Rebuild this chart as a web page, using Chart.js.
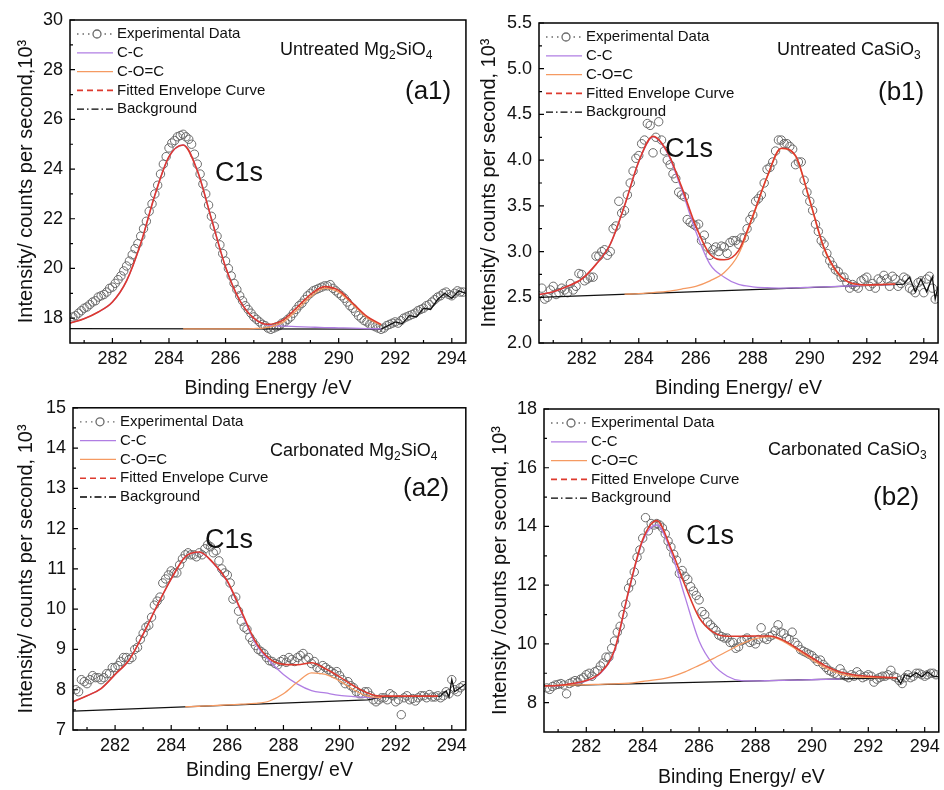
<!DOCTYPE html>
<html>
<head>
<meta charset="utf-8">
<script src="https://cdn.jsdelivr.net/npm/chart.js@4.4.1/dist/chart.umd.min.js"></script>
<style>
html,body{margin:0;padding:0;background:#fff;}
body{width:944px;height:790px;position:relative;overflow:hidden;}
.panel{position:absolute;}
.panel canvas{display:block;}
</style>
</head>
<body>
<div class="panel" style="left:0;top:0"><canvas id="cA1" width="472" height="400"></canvas></div>
<div class="panel" style="left:470px;top:0"><canvas id="cB1" width="474" height="400"></canvas></div>
<div class="panel" style="left:0;top:390px"><canvas id="cA2" width="472" height="400"></canvas></div>
<div class="panel" style="left:470px;top:390px"><canvas id="cB2" width="474" height="400"></canvas></div>
<script>
/* ============================================================
   DATA
   ============================================================ */
var xTicks=[282,284,286,288,290,292,294];
var yTicksA1=[18,20,22,24,26,28,30];
var yTicksB1=[2.0,2.5,3.0,3.5,4.0,4.5,5.0,5.5];
var yTicksA2=[7,8,9,10,11,12,13,14,15];
var yTicksB2=[8,10,12,14,16,18];

// grid for the fitted curves
var fitEnergy=[280.5,281,281.5,282,282.5,283,283.5,284,284.5,285,285.5,286,286.5,287,287.5,288,288.5,289,289.5,290,290.5,291,291.5,292,292.5,293,293.5,294,294.5];
// grid for the measured points
var expEnergy=[280.6,280.7,280.8,280.9,281.0,281.1,281.2,281.3,281.4,281.5,281.6,281.7,281.8,281.9,282.0,282.1,282.2,282.3,282.4,282.5,
  282.6,282.7,282.8,282.9,283.0,283.1,283.2,283.3,283.4,283.5,283.6,283.7,283.8,283.9,284.0,284.1,284.2,284.3,284.4,284.5,
  284.6,284.7,284.8,284.9,285.0,285.1,285.2,285.3,285.4,285.5,285.6,285.7,285.8,285.9,286.0,286.1,286.2,286.3,286.4,286.5,
  286.6,286.7,286.8,286.9,287.0,287.1,287.2,287.3,287.4,287.5,287.6,287.7,287.8,287.9,288.0,288.1,288.2,288.3,288.4,288.5,
  288.6,288.7,288.8,288.9,289.0,289.1,289.2,289.3,289.4,289.5,289.6,289.7,289.8,289.9,290.0,290.1,290.2,290.3,290.4,290.5,
  290.6,290.7,290.8,290.9,291.0,291.1,291.2,291.3,291.4,291.5,291.6,291.7,291.8,291.9,292.0,292.1,292.2,292.3,292.4,292.5,
  292.6,292.7,292.8,292.9,293.0,293.1,293.2,293.3,293.4,293.5,293.6,293.7,293.8,293.9,294.0,294.1,294.2,294.3,294.4];

/* (a1) untreated Mg2SiO4 */
var a1Exp=[18.05,18.1,18.2,18.3,18.4,18.45,18.55,18.65,18.7,18.85,18.9,18.95,19.05,19.2,19.25,19.4,19.55,19.7,19.9,20.1,
  20.3,20.55,20.8,21.0,21.3,21.6,21.9,22.3,22.6,23.0,23.35,23.8,24.2,24.5,24.85,25.05,25.15,25.3,25.35,25.4,
  25.3,25.2,25.0,24.6,24.2,23.8,23.4,23.0,22.55,22.1,21.7,21.3,20.95,20.6,20.3,20.0,19.7,19.4,19.15,18.9,
  18.7,18.5,18.35,18.2,18.05,17.95,17.85,17.75,17.7,17.6,17.55,17.6,17.65,17.7,17.8,17.85,17.95,18.05,18.2,18.35,
  18.5,18.6,18.75,18.9,19.0,19.1,19.15,19.2,19.25,19.3,19.3,19.35,19.2,19.1,19.0,18.9,18.8,18.65,18.5,18.4,
  18.25,18.1,18.0,17.9,17.85,17.75,17.7,17.65,17.6,17.55,17.6,17.7,17.75,17.8,17.85,17.8,17.9,18.0,18.05,18.1,
  18.15,18.2,18.3,18.35,18.4,18.5,18.55,18.65,18.75,18.85,18.9,19.0,19.05,18.95,18.9,19.0,19.1,19.05,19.05];
var a1Env=[17.8,17.98,18.25,18.65,19.5,21.0,22.95,24.5,24.97,23.94,22.0,20.06,18.72,18.0,17.75,17.9,18.4,18.95,19.27,19.12,18.6,18.07,17.75,null,null,null,null,null,null];
var a1CC=[17.8,17.98,18.25,18.65,19.5,21.0,22.95,24.5,24.97,23.94,22.0,20.06,18.72,18.0,17.72,17.68,17.66,17.64,17.62,17.61,17.6,17.58,17.57,null,null,null,null,null,null];
var a1COC=[null,null,null,null,null,null,null,null,17.57,17.57,17.57,17.57,17.57,17.58,17.63,17.82,18.3,18.85,19.2,19.05,18.55,18.02,17.72,null,null,null,null,null,null];
var a1BgEnergy=[280.5,291.5,291.75,292,292.25,292.5,292.75,293,293.25,293.5,293.75,294,294.25,294.5];
var a1Bg=[17.58,17.56,17.7,17.85,17.78,18.1,18.05,18.4,18.35,18.75,19.0,18.8,19.1,19.0];

/* (b1) untreated CaSiO3 */
var b1Exp=[2.60,2.48,2.50,2.58,2.62,2.53,2.55,2.60,2.58,2.55,2.65,2.58,2.62,2.76,2.75,2.68,2.70,2.72,2.72,2.95,
  2.95,3.0,3.02,2.96,3.0,3.25,3.28,3.55,3.42,3.45,3.62,3.75,3.88,4.02,4.05,4.18,4.22,4.40,4.38,4.08,
  4.25,4.42,4.22,4.10,4.00,3.95,3.85,3.80,3.65,3.62,3.60,3.35,3.32,3.30,3.28,3.30,3.12,3.18,3.05,2.96,
  3.02,3.05,3.0,3.06,3.05,2.98,3.10,3.12,3.12,3.08,3.15,3.15,3.25,3.35,3.40,3.55,3.58,3.62,3.75,3.90,
  3.92,3.98,4.1,4.22,4.22,4.18,4.18,4.15,4.12,3.95,3.98,3.98,3.78,3.65,3.55,3.45,3.30,3.22,3.12,3.08,
  2.98,2.90,2.85,2.80,2.78,2.72,2.72,2.66,2.60,2.64,2.62,2.60,2.68,2.70,2.72,2.62,2.65,2.60,2.70,2.68,
  2.74,2.70,2.62,2.73,2.70,2.62,2.65,2.72,2.70,2.60,2.58,2.55,2.66,2.68,2.55,2.70,2.73,2.60,2.48];
var b1Env=[2.53,2.56,2.62,2.70,2.86,3.08,3.50,3.985,4.26,4.09,3.71,3.28,2.97,2.91,3.01,3.39,3.815,4.13,4.05,3.56,3.04,2.76,2.65,2.635,2.64,2.645,null,null,null];
var b1CC=[2.53,2.56,2.62,2.70,2.86,3.08,3.50,3.98,4.256,4.08,3.68,3.22,2.86,2.72,2.64,2.615,2.605,2.60,2.604,2.609,2.614,2.62,2.625,2.63,2.636,2.641,null,null,null];
var b1COC=[null,null,null,null,null,null,2.534,2.54,2.552,2.565,2.59,2.62,2.68,2.77,2.97,3.375,3.81,4.125,4.04,3.55,3.03,2.75,2.65,2.635,2.638,2.643,null,null,null];
var b1BgEnergy=[280.5,293.3,293.5,293.7,293.9,294.1,294.3,294.4,294.5];
var b1Bg=[2.50,2.645,2.72,2.56,2.70,2.56,2.72,2.48,2.62];

/* (a2) carbonated Mg2SiO4 */
var a2Exp=[8.0,7.95,8.25,8.2,8.15,8.25,8.35,8.3,8.3,8.25,8.3,8.4,8.4,8.55,8.55,8.6,8.7,8.8,8.8,8.75,
  8.8,9.0,9.05,9.25,9.4,9.55,9.6,9.8,10.1,10.2,10.3,10.65,10.75,10.85,10.95,10.9,10.9,11.1,11.25,11.35,
  11.4,11.35,11.35,11.3,11.4,11.35,11.5,11.6,11.55,11.4,11.45,11.2,11.0,10.9,10.85,10.65,10.25,10.3,9.95,9.7,
  9.55,9.5,9.3,9.2,9.1,9.0,8.95,8.9,8.8,8.72,8.7,8.65,8.62,8.7,8.75,8.68,8.8,8.75,8.7,8.8,
  8.85,8.9,8.75,8.8,8.65,8.7,8.55,8.5,8.6,8.55,8.5,8.45,8.4,8.45,8.35,8.25,8.15,8.2,8.1,8.05,
  7.95,7.9,7.9,7.95,7.95,7.85,7.75,7.7,7.75,7.8,7.8,7.75,7.9,7.85,7.7,7.75,7.38,7.8,7.85,7.75,
  7.78,7.72,7.8,7.85,7.85,7.8,7.88,7.82,7.82,7.85,7.8,7.85,7.95,7.9,8.25,8.0,7.95,8.05,8.1];
var a2Env=[7.70,7.85,8.03,8.38,8.74,9.38,10.09,10.75,11.30,11.42,11.15,10.7,9.95,9.2,8.77,8.63,8.62,8.67,8.52,8.32,8.1,7.92,7.84,7.84,7.84,7.84,7.84,null,null];
var a2CC=[7.70,7.85,8.03,8.38,8.74,9.38,10.09,10.75,11.30,11.41,11.14,10.68,9.92,9.15,8.72,8.38,8.14,7.98,7.92,7.86,7.83,7.81,7.80,null,null,null,null,null,null];
var a2COC=[null,null,null,null,null,null,null,null,7.577,7.59,7.605,7.625,7.64,7.66,7.72,7.9,8.19,8.42,8.38,8.22,8.0,7.84,7.8,null,null,null,null,null,null];
var a2BgEnergy=[280.5,291.0,291.5,293.6,293.7,293.8,293.9,294.0,294.1,294.3,294.5];
var a2Bg=[7.47,7.75,7.82,7.84,7.92,7.97,7.82,8.25,7.95,8.05,8.15];

/* (b2) carbonated CaSiO3 */
var b2Exp=[8.5,8.45,8.55,8.6,8.62,8.65,8.6,8.3,8.65,8.7,8.75,8.7,8.8,8.85,8.95,9.0,8.9,9.05,9.1,9.25,
  9.35,9.55,9.55,9.85,10.1,10.4,10.6,11.0,11.35,11.9,12.1,12.45,12.95,13.2,13.6,14.3,13.85,14.1,14.05,14.1,
  14.05,13.95,13.75,13.5,13.3,13.05,12.85,12.4,12.5,12.3,12.2,11.95,11.8,11.65,11.5,11.1,11.0,10.75,10.65,10.55,
  10.45,10.3,10.25,10.2,10.2,10.05,10.05,9.85,9.9,10.1,10.15,10.2,10.05,10.1,10.0,10.15,10.55,10.2,10.15,10.25,
  10.3,10.45,10.65,10.4,10.35,10.2,10.15,10.4,10.05,9.95,9.8,9.75,9.7,9.65,9.6,9.5,9.4,9.45,9.3,9.2,
  9.1,9.05,9.0,8.95,9.15,9.0,8.9,8.85,8.95,8.9,9.05,8.95,8.85,8.9,8.95,8.9,8.7,8.8,8.85,8.9,
  8.9,8.95,9.1,8.9,8.85,8.75,8.65,8.85,8.95,8.85,8.9,9.0,9.0,8.95,8.9,8.95,9.0,9.0,8.95];
var b2Env=[8.57,8.585,8.65,8.75,9.02,9.79,11.8,13.55,14.2,13.25,12.0,10.9,10.4,10.26,10.26,10.27,10.27,10.12,9.83,9.53,9.24,9.04,8.94,8.9,8.87,8.85,null,null,null];
var b2CC=[8.57,8.58,8.64,8.74,9.0,9.76,11.76,13.5,14.05,13.15,11.6,10.1,9.3,8.9,8.75,8.74,8.75,8.76,8.77,8.78,8.795,8.806,null,null,null,null,null,null,null];
var b2COC=[8.57,8.585,8.6,8.61,8.625,8.64,8.66,8.72,8.78,8.88,9.05,9.27,9.5,9.75,10.0,10.18,10.25,10.08,9.78,9.47,9.17,8.98,8.89,8.86,8.85,8.85,null,null,null];
var b2BgEnergy=[280.5,293.0,293.15,293.3,293.5,293.7,293.9,294.1,294.3,294.5];
var b2Bg=[8.57,8.85,8.65,8.95,8.88,9.02,8.88,9.05,8.9,8.88];

var legendLabels=['Experimental Data','C-C','C-O=C','Fitted Envelope Curve','Background'];

/* ============================================================
   STYLE
   ============================================================ */
var FONT='"Liberation Sans", Arial, Helvetica, sans-serif';
var COL={exp:'#6a6a6a',cc:'#b07ee3',coc:'#f59a62',env:'#dd3a2e',bg:'#111'};
Chart.defaults.font.family=FONT;
Chart.defaults.color='#000';

function pts(xs,ys){
    var out=[];
    for(var i=0;i<xs.length;i++){if(ys[i]!==null&&ys[i]!==undefined)out.push({x:xs[i],y:ys[i]});}
    return out;
}
function minorsOf(ticks,min,max){
    var step=ticks[1]-ticks[0],m=[];
    var v=ticks[0]-step/2;
    if(v>min)m.push(v);
    ticks.forEach(function(t){var w=t+step/2;if(w<max)m.push(w);});
    return m;
}
function drawParts(ctx,parts,x,y,size){
    var cx=x;
    parts.forEach(function(p){
        var sub=p[1];
        ctx.font=(sub?Math.round(size*0.66):size)+'px '+FONT;
        ctx.fillText(p[0],cx,y+(sub?size*0.32:0));
        cx+=ctx.measureText(p[0]).width;
    });
}

/* ============================================================
   PANEL BUILDER
   ============================================================ */
function makePanel(cfg){
    var framePlugin={id:'frame',afterDraw:function(c){
        var a=c.chartArea,ctx=c.ctx,xs=c.scales.x,ys=c.scales.y;
        ctx.save();
        ctx.strokeStyle='#000';ctx.lineWidth=1.5;
        ctx.strokeRect(a.left,a.top,a.right-a.left,a.bottom-a.top);
        ctx.lineWidth=1.2;ctx.beginPath();
        xTicks.forEach(function(v){var p=xs.getPixelForValue(v);ctx.moveTo(p,a.bottom);ctx.lineTo(p,a.bottom-5);});
        minorsOf(xTicks,280.5,294.5).forEach(function(v){var p=xs.getPixelForValue(v);ctx.moveTo(p,a.bottom);ctx.lineTo(p,a.bottom-3);});
        cfg.yTicks.forEach(function(v){var p=ys.getPixelForValue(v);ctx.moveTo(a.left,p);ctx.lineTo(a.left+5,p);});
        minorsOf(cfg.yTicks,cfg.yMin,cfg.yMax).forEach(function(v){var p=ys.getPixelForValue(v);ctx.moveTo(a.left,p);ctx.lineTo(a.left+3,p);});
        ctx.stroke();
        ctx.restore();
    }};
    var legendPlugin={id:'legendBox',afterDraw:function(c){
        var a=c.chartArea,ctx=c.ctx;
        var x0=a.left+7,x1=a.left+43,tx=a.left+47;
        ctx.save();
        legendLabels.forEach(function(lbl,i){
            var y=a.top+14+i*18.8;
            ctx.beginPath();ctx.lineWidth=1.3;
            if(i===0){ctx.strokeStyle=COL.exp;ctx.setLineDash([1.5,4]);}
            else if(i===1){ctx.strokeStyle=COL.cc;ctx.setLineDash([]);}
            else if(i===2){ctx.strokeStyle=COL.coc;ctx.setLineDash([]);}
            else if(i===3){ctx.strokeStyle=COL.env;ctx.setLineDash([6,4]);ctx.lineWidth=1.6;}
            else {ctx.strokeStyle='#000';ctx.setLineDash([7,3,1.5,3]);}
            ctx.moveTo(x0,y);ctx.lineTo(x1,y);ctx.stroke();
            if(i===0){
                ctx.setLineDash([]);ctx.beginPath();ctx.fillStyle='#fff';
                ctx.arc(x0+20,y,4,0,Math.PI*2);ctx.fill();ctx.stroke();
            }
            ctx.setLineDash([]);
            ctx.fillStyle='#111';ctx.font='15px '+FONT;ctx.textBaseline='middle';ctx.textAlign='left';
            ctx.fillText(lbl,tx,y);
        });
        ctx.restore();
    }};
    var notesPlugin={id:'notes',afterDraw:function(c){
        var a=c.chartArea,ctx=c.ctx,n=cfg.notes;
        ctx.save();
        ctx.fillStyle='#111';ctx.textBaseline='middle';ctx.textAlign='left';
        drawParts(ctx,cfg.sample,a.left+n.sample[0],a.top+n.sample[1],18);
        ctx.font='26px '+FONT;ctx.fillText(cfg.tag,a.left+n.tag[0],a.top+n.tag[1]);
        ctx.font='27px '+FONT;ctx.fillText('C1s',a.left+n.c1s[0],a.top+n.c1s[1]);
        ctx.restore();
    }};

    var line=function(label,data,color,w,order){
        return {label:label,data:data,borderColor:color,backgroundColor:color,borderWidth:w,pointRadius:0,
            showLine:true,fill:false,order:order,cubicInterpolationMode:'monotone'};
    };

    return new Chart(document.getElementById(cfg.canvas),{
        type:'scatter',
        data:{datasets:[
            line('Fitted Envelope Curve',pts(fitEnergy,cfg.env),COL.env,1.6,0),
            line('C-O=C',pts(fitEnergy,cfg.coc),COL.coc,1.3,1),
            line('C-C',pts(fitEnergy,cfg.cc),COL.cc,1.3,2),
            {label:'Background',data:pts(cfg.bgX,cfg.bg),borderColor:COL.bg,borderWidth:1.3,pointRadius:0,showLine:true,tension:0,order:3},
            {label:'Experimental Data',data:pts(expEnergy,cfg.exp),showLine:false,pointRadius:4.2,pointBorderWidth:1,
             pointBorderColor:COL.exp,pointBackgroundColor:'rgba(255,255,255,0)',order:4}
        ]},
        options:{
            responsive:false,animation:false,devicePixelRatio:1,
            layout:{padding:cfg.pad},
            plugins:{legend:{display:false},tooltip:{enabled:false}},
            scales:{
                x:{type:'linear',min:280.5,max:294.5,
                    grid:{display:false,drawTicks:false},border:{display:false},
                    afterBuildTicks:function(s){s.ticks=xTicks.map(function(v){return {value:v};});},
                    afterFit:function(s){s.height=cfg.xH;},
                    ticks:{autoSkip:false,maxRotation:0,padding:cfg.xTickPad,font:{size:18},color:'#111'},
                    title:{display:true,text:cfg.xTitle,font:{size:19.5},color:'#111',padding:{top:0,bottom:cfg.xTitlePad}}},
                y:{type:'linear',min:cfg.yMin,max:cfg.yMax,
                    grid:{display:false,drawTicks:false},border:{display:false},
                    afterBuildTicks:function(s){s.ticks=cfg.yTicks.map(function(v){return {value:v};});},
                    afterFit:function(s){s.width=cfg.yW;},
                    ticks:{autoSkip:false,padding:7,font:{size:18},color:'#111',
                        callback:function(v){return cfg.dec?v.toFixed(cfg.dec):String(v);}},
                    title:{display:true,text:cfg.yTitle,font:{size:20},color:'#111',padding:{top:cfg.yTitlePad,bottom:0}}}
            }
        },
        plugins:[framePlugin,legendPlugin,notesPlugin]
    });
}

/* ============================================================
   INIT
   ============================================================ */
makePanel({canvas:'cA1',yMin:17,yMax:30,yTicks:yTicksA1,dec:0,
    yTitle:'Intensity/ counts per second,10\u00B3',xTitle:'Binding Energy /eV',
    pad:{top:20,right:3,left:0,bottom:0},yW:70,xH:57,yTitlePad:14,xTitlePad:0,xTickPad:5,
    exp:a1Exp,env:a1Env,cc:a1CC,coc:a1COC,bgX:a1BgEnergy,bg:a1Bg,
    sample:[['Untreated Mg',0],['2',1],['SiO',0],['4',1]],tag:'(a1)',
    notes:{sample:[210,30],tag:[335,72],c1s:[145,154]}});

makePanel({canvas:'cB1',yMin:2,yMax:5.5,yTicks:yTicksB1,dec:1,
    yTitle:'Intensity/ counts per second, 10\u00B3',xTitle:'Binding Energy/ eV',
    pad:{top:23,right:4,left:0,bottom:0},yW:69,xH:57,yTitlePad:7,xTitlePad:0,xTickPad:5,
    exp:b1Exp,env:b1Env,cc:b1CC,coc:b1COC,bgX:b1BgEnergy,bg:b1Bg,
    sample:[['Untreated CaSiO',0],['3',1]],tag:'(b1)',
    notes:{sample:[238,27],tag:[339,70],c1s:[126,127]}});

makePanel({canvas:'cA2',yMin:7,yMax:15,yTicks:yTicksA2,dec:0,
    yTitle:'Intensity/ counts per second, 10\u00B3',xTitle:'Binding Energy/ eV',
    pad:{top:17,right:2,left:0,bottom:0},yW:73,xH:60,yTitlePad:14,xTitlePad:8,xTickPad:5,
    exp:a2Exp,env:a2Env,cc:a2CC,coc:a2COC,bgX:a2BgEnergy,bg:a2Bg,
    sample:[['Carbonated Mg',0],['2',1],['SiO',0],['4',1]],tag:'(a2)',
    notes:{sample:[197,43],tag:[330,81],c1s:[132,133]}});

makePanel({canvas:'cB2',yMin:7,yMax:18,yTicks:yTicksB2,dec:0,
    yTitle:'Intensity /counts per second, 10\u00B3',xTitle:'Binding Energy/ eV',
    pad:{top:19,right:2,left:0,bottom:0},yW:74,xH:58,yTitlePad:18,xTitlePad:1,xTickPad:4,
    exp:b2Exp,env:b2Env,cc:b2CC,coc:b2COC,bgX:b2BgEnergy,bg:b2Bg,
    sample:[['Carbonated CaSiO',0],['3',1]],tag:'(b2)',
    notes:{sample:[224,41],tag:[329,89],c1s:[142,128]}});
</script>
</body>
</html>
